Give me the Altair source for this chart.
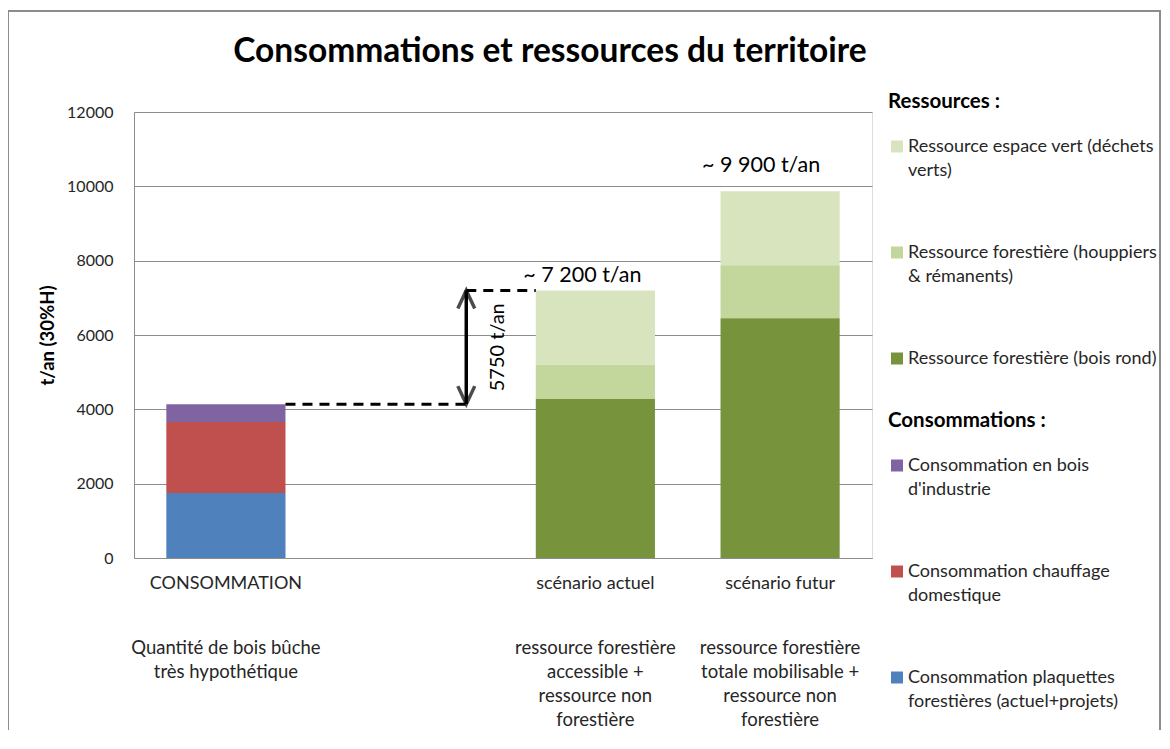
import altair as alt
import pandas as pd

# ---- data ----
categories = ["CONSOMMATION", " ", "scénario actuel", "scénario futur"]
descriptions = ["Quantité de bois bûche|très hypothétique", "",
                "ressource forestière|accessible  +|ressource non|forestière",
                "ressource forestière|totale mobilisable +|ressource non|forestière"]

conso_series = ["Consommation en bois|d'industrie",
                "Consommation chauffage|domestique",
                "Consommation plaquettes|forestières (actuel+projets)"]
conso_values = [480, 1910, 1750]          # top -> bottom
conso_colors = ["#8064A2", "#C0504D", "#4F81BD"]

res_series = ["Ressource espace vert (déchets|verts)",
              "Ressource forestière (houppiers|& rémanents)",
              "Ressource forestière (bois rond)"]
res_actuel = [2000, 920, 4280]            # top -> bottom
res_futur = [1990, 1430, 6450]
res_colors = ["#D7E4BD", "#C3D69B", "#77933C"]

total_labels = ["~ 7 200 t/an", "~ 9 900 t/an"]
gap_label = "5750 t/an"

FONT = "Lato"
TXT = "#262626"

conso_df = pd.DataFrame({
    "cat": categories[0],
    "serie": conso_series,
    "val": conso_values,
    "ord": [2, 1, 0],
})
res_rows = []
for cat, vals in [(categories[2], res_actuel), (categories[3], res_futur)]:
    for i, (s, v) in enumerate(zip(res_series, vals)):
        res_rows.append({"cat": cat, "serie": s, "val": v, "ord": 2 - i})
res_df = pd.DataFrame(res_rows)

conso_total = sum(conso_values)
actuel_total = sum(res_actuel)
futur_total = sum(res_futur)

xscale = alt.Scale(domain=categories, paddingInner=0.355, paddingOuter=0.175)
X = alt.X("cat:N", scale=xscale, sort=categories, title=None,
          axis=alt.Axis(labelAngle=0, ticks=False, labelFontSize=18, labelFont=FONT,
                        labelColor=TXT, labelPadding=16, domainColor="#8c8c8c",
                        labelLimit=300))
Y = alt.Y("val:Q", stack="zero",
          scale=alt.Scale(domain=[0, 12000]),
          title="t/an (30%H)",
          axis=alt.Axis(values=[0, 2000, 4000, 6000, 8000, 10000, 12000], format="d",
                        ticks=False, labelFontSize=16, labelFont=FONT, labelColor=TXT,
                        labelPadding=21, gridColor="#8c8c8c", domainColor="#8c8c8c",
                        titleFont=FONT, titleFontSize=18.5, titleFontWeight="bold",
                        titleColor="black", titlePadding=9))

legend_common = dict(orient="none", symbolType="square", symbolSize=144,
                     symbolStrokeWidth=0, labelFontSize=18, labelFont=FONT,
                     labelColor=TXT, labelLimit=400, labelOffset=2,
                     labelExpr="split(datum.label, '|')",
                     titleFont=FONT, titleFontSize=20.5, titleFontWeight="bold",
                     titleColor="black", padding=0, rowPadding=64, titlePadding=25)

conso_bars = alt.Chart(conso_df).mark_bar().encode(
    x=X, y=Y,
    color=alt.Color("serie:N", scale=alt.Scale(domain=conso_series, range=conso_colors),
                    legend=alt.Legend(title="\u00a0Consommations :", legendX=754, legendY=299,
                                      **legend_common)),
    order=alt.Order("ord:Q"),
)
res_bars = alt.Chart(res_df).mark_bar().encode(
    x=X, y=Y,
    color=alt.Color("serie:N", scale=alt.Scale(domain=res_series, range=res_colors),
                    legend=alt.Legend(title="Ressources :", legendX=754, legendY=-20,
                                      **legend_common)),
    order=alt.Order("ord:Q"),
)

desc_df = pd.DataFrame({"cat": categories, "desc": descriptions})
desc_text = alt.Chart(desc_df).mark_text(
    lineBreak="|", baseline="top", fontSize=18.5, font=FONT, color=TXT, lineHeight=24
).encode(x=alt.X("cat:N", scale=xscale, sort=categories), y=alt.value(527), text="desc:N")

# dashed connectors
dash_df = pd.DataFrame({"c1": [categories[0]], "c2": [categories[1]], "c3": [categories[2]],
                        "lo": [conso_total], "hi": [actuel_total],
                        "mid": [(conso_total + actuel_total) / 2], "t": [gap_label]})
dash_style = dict(color="black", strokeWidth=3, strokeDash=[10, 7])
dash_lo = alt.Chart(dash_df).mark_rule(**dash_style).encode(
    x=alt.X("c1:N", scale=xscale, sort=categories, bandPosition=1),
    x2=alt.X2("c2", bandPosition=0.967),
    y="lo:Q",
)
dash_hi = alt.Chart(dash_df).mark_rule(**dash_style).encode(
    x=alt.X("c2:N", scale=xscale, sort=categories, bandPosition=0.967),
    x2=alt.X2("c3", bandPosition=0),
    y="hi:Q",
)

XA = alt.X("c2:N", scale=xscale, sort=categories, bandPosition=0.967)
arrow_line = alt.Chart(dash_df).mark_rule(color="black", strokeWidth=3.5).encode(
    x=XA, y="lo:Q", y2="hi:Q",
)
head_up = alt.Chart(dash_df).mark_point(
    shape="M-0.47,1L0,0L0.47,1", size=1296, filled=False, color="black", strokeWidth=3.5
).encode(x=XA, y="hi:Q")
head_down = alt.Chart(dash_df).mark_point(
    shape="M-0.47,-1L0,0L0.47,-1", size=1296, filled=False, color="black", strokeWidth=3.5
).encode(x=XA, y="lo:Q")
gap_text = alt.Chart(dash_df).mark_text(
    angle=270, fontSize=20, font=FONT, color="black", dy=32, align="center", baseline="middle"
).encode(x=XA, y="mid:Q", text="t:N")

tot_a = alt.Chart(pd.DataFrame({"cat": [categories[2]], "v": [actuel_total],
                                "t": [total_labels[0]]})).mark_text(
    fontSize=21.5, font=FONT, color="black", dx=-13, dy=-14, baseline="middle"
).encode(x=alt.X("cat:N", scale=xscale, sort=categories), y="v:Q", text="t:N")
tot_f = alt.Chart(pd.DataFrame({"cat": [categories[3]], "v": [futur_total],
                                "t": [total_labels[1]]})).mark_text(
    fontSize=21.5, font=FONT, color="black", dx=-19, dy=-25, baseline="middle"
).encode(x=alt.X("cat:N", scale=xscale, sort=categories), y="v:Q", text="t:N")

# outer chart-area frame (decoration)
frame = alt.Chart(pd.DataFrame({"k": [0]})).mark_rect(
    fillOpacity=0, stroke="#8c8c8c", strokeWidth=2
).encode(x=alt.value(-126), x2=alt.value(1026), y=alt.value(-101), y2=alt.value(700))

chart = alt.layer(
    frame, res_bars, conso_bars, desc_text, dash_lo, dash_hi, arrow_line, head_up, head_down,
    gap_text, tot_a, tot_f
).resolve_scale(color="independent").properties(
    width=738, height=446,
    autosize=alt.AutoSizeParams(type="none"),
    padding={"left": 126, "top": 104, "right": 290, "bottom": 172},
    title=alt.TitleParams("Consommations et ressources du territoire", fontSize=33.5,
                          font=FONT, fontWeight="bold", color="black", anchor="middle",
                          dx=47, dy=136, baseline="bottom", offset=44),
).configure_view(stroke=None).configure(
    background="white", style={"guide-label": {"lineHeight": 24}}
)

chart.save("out.html", embed_options={"renderer": "svg", "actions": False})
